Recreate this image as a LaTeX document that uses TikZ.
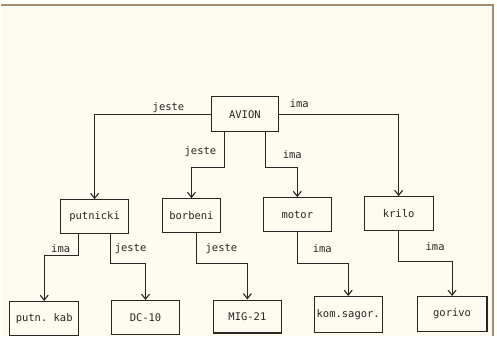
\documentclass[tikz,border=0pt]{standalone}
\usepackage{fontspec}
\setmonofont{DejaVu Sans Mono}
\usepackage{tikz}
\usetikzlibrary{arrows.meta,positioning,calc}
\definecolor{paper}{HTML}{FDFBEF}
\definecolor{edge}{HTML}{FFFFFA}
\definecolor{frame}{HTML}{A48A72}
\definecolor{ink}{HTML}{262626}
\tikzset{
  concept/.style={
    draw=ink, line width=1.1pt, fill=paper, minimum width=68pt,
    minimum height=34pt, inner sep=1pt,
    font=\ttfamily\fontsize{10.5}{12}\selectfont, text=ink
  },
  link/.style={-{Straight Barb[length=5pt,width=8pt,line width=1.1pt]},
    line width=1.1pt, ink},
  rel/.style={font=\ttfamily\fontsize{10.5}{12}\selectfont, text=ink, inner sep=0pt},
}
\begin{document}
\begin{tikzpicture}[x=1pt, y=-1pt]
    % paper and frame
    \fill[edge] (0,0) rectangle (497,337);
    \fill[paper] (0,5) rectangle (493,337);
    \draw[frame, line width=1.5pt] (0,5) -- (493,5) -- (493,337);
    \useasboundingbox (0,0) rectangle (497,337);

    % concepts
    \node[concept, minimum width=67pt, minimum height=35pt] (avion) at (244.5,114.5) {AVION};
    \node[concept] (putnicki) at (94,217) {putnicki};
    \node[concept, minimum width=58pt] (borbeni) at (191,216) {borbeni};
    \node[concept] (motor) at (297,215) {motor};
    \node[concept, minimum width=69pt] (krilo) at (398.5,214) {krilo};
    \node[concept, minimum width=69pt] (putnkab) at (43.5,319) {putn. kab};
    \node[concept] (dc10) at (145,318) {DC-10};
    \node[concept, minimum height=33pt] (mig21) at (247,317) {MIG-21};
    \node[concept, minimum height=36pt] (komsagor) at (348,315) {kom.sagor.};
    \node[concept, minimum width=70pt, minimum height=35pt] (gorivo) at (452,314.5) {gorivo};

    % relations
    \draw[link] (avion.west) -| (putnicki.north);
    \draw[link] (avion.east) -| (krilo.north);
    \draw[link] ([xshift=-20pt]avion.south) -- ++(0,35) -| (borbeni.north);
    \draw[link] ([xshift=21pt]avion.south) -- ++(0,35) -| (motor.north);
    \draw[link] ([xshift=-16pt]putnicki.south) -- ++(0,21) -| (putnkab.north);
    \draw[link] ([xshift=16pt]putnicki.south) -- ++(0,29) -| (dc10.north);
    \draw[link] ([xshift=5pt]borbeni.south) -- ++(0,30) -| (mig21.north);
    \draw[link] (motor.south) -- ++(0,31) -| (komsagor.north);
    \draw[link] (krilo.south) -- ++(0,30) -| (gorivo.north);

    % relation labels
    \node[rel] (l1) at (168,108) {jeste};
    \node[rel] (l2) at (299,104) {ima};
    \node[rel] (l3) at (200,152) {jeste};
    \node[rel] (l4) at (292,155) {ima};
    \node[rel] (l5) at (60,249) {ima};
    \node[rel] (l6) at (130,249) {jeste};
    \node[rel] (l7) at (221,249) {jeste};
    \node[rel] (l8) at (322,249) {ima};
    \node[rel] (l9) at (435,247) {ima};
\end{tikzpicture}
\end{document}
